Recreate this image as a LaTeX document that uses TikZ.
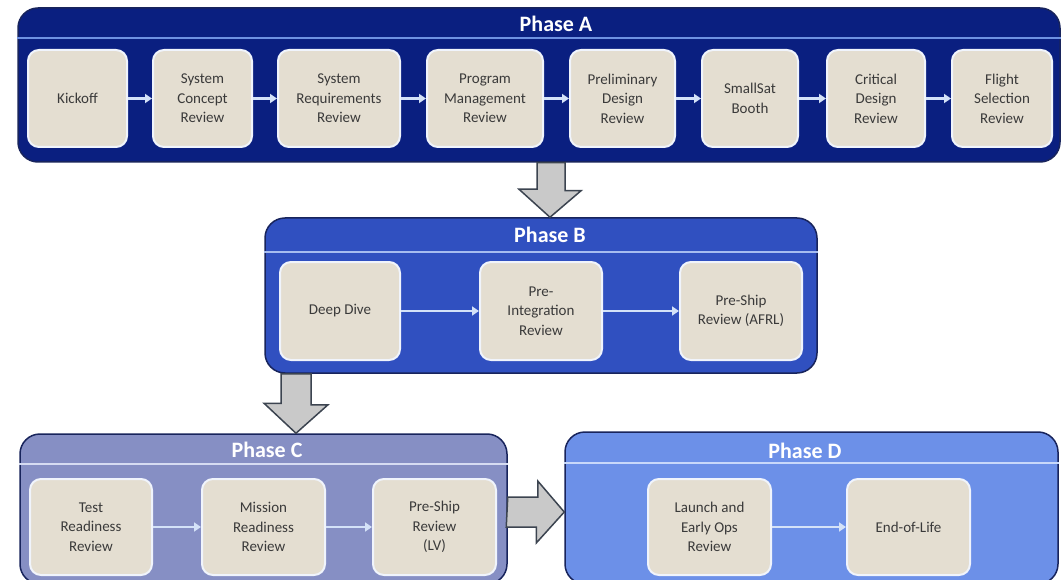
\documentclass[tikz,border=0pt]{standalone}
\usepackage{fontspec}
\setmainfont{Carlito}
\usetikzlibrary{arrows.meta,calc}

\definecolor{fillA}{RGB}{10,31,128}
\definecolor{fillB}{RGB}{48,80,192}
\definecolor{fillC}{RGB}{134,143,196}
\definecolor{fillD}{RGB}{108,144,232}
\definecolor{ruleA}{RGB}{110,145,225}
\definecolor{ruleB}{RGB}{166,188,240}
\definecolor{ruleC}{RGB}{214,220,242}
\definecolor{ruleD}{RGB}{200,216,250}
\definecolor{paneledge}{RGB}{24,36,92}
\definecolor{stagefill}{RGB}{228,222,209}
\definecolor{stageedge}{RGB}{240,244,252}
\definecolor{stagetext}{RGB}{58,58,58}
\definecolor{flowcol}{RGB}{212,226,248}
\definecolor{arrowfill}{RGB}{201,201,201}
\definecolor{arrowedge}{RGB}{60,68,80}

\begin{document}
\begin{tikzpicture}[x=1pt,y=-1pt,
  panel/.style={draw=paneledge, line width=1.5pt, rounded corners=20pt, inner sep=0pt},
  stage/.style={draw=stageedge, line width=2pt, fill=stagefill, rounded corners=11pt,
    inner sep=2pt, align=center, text=stagetext,
    font=\fontsize{15}{19.5}\selectfont},
  flow/.style={draw=flowcol, line width=2.2pt, -{Triangle[length=7pt,width=9pt]}},
  blockarrow/.style={draw=arrowedge, fill=arrowfill, line width=1.5pt, line join=miter},
  phasetitle/.style={text=white, inner sep=0pt, font=\bfseries\fontsize{22}{24}\selectfont}]

\useasboundingbox (0,0) rectangle (1063,580);
\fill[white] (0,0) rectangle (1063,580);
\clip (0,0) rectangle (1063,580);

% ---------- phase panels ----------
\node[panel, fill=fillA, minimum width=1042pt, minimum height=154pt] (pA) at (539,85) {};
\node[panel, fill=fillB, minimum width=552pt, minimum height=155pt] (pB) at (541,295.5) {};
\node[panel, fill=fillC, minimum width=487pt, minimum height=150pt] (pC) at (263.5,509) {};
\node[panel, fill=fillD, minimum width=493pt, minimum height=152pt] (pD) at (811.5,508) {};

% header rules
\draw[ruleA, line width=1.5pt] (pA.west |- 0,38) -- (pA.east |- 0,38);
\draw[ruleB, line width=1.5pt] (pB.west |- 0,252) -- (pB.east |- 0,252);
\draw[ruleC, line width=1.5pt] (pC.west |- 0,464) -- (pC.east |- 0,464);
\draw[ruleD, line width=1.5pt] (pD.west |- 0,463) -- (pD.east |- 0,463);

% titles
\node[phasetitle] (tA) at (556,23.5) {Phase A};
\node[phasetitle] (tB) at (550,235) {Phase B};
\node[phasetitle] (tC) at (267,450) {Phase C};
\node[phasetitle] (tD) at (805,451) {Phase D};

% ---------- Phase A stages ----------
\node[stage, minimum width=99pt,  minimum height=97pt] (a1) at (77.5,98.5)  {Kickoff};
\node[stage, minimum width=99pt,  minimum height=97pt] (a2) at (202.5,98.5) {System\\Concept\\Review};
\node[stage, minimum width=122pt, minimum height=97pt] (a3) at (339,98.5)   {System\\Requirements\\Review};
\node[stage, minimum width=116pt, minimum height=97pt] (a4) at (485,98.5)   {Program\\Management\\Review};
\node[stage, minimum width=105pt, minimum height=97pt] (a5) at (622.5,98.5) {Preliminary\\Design\\Review};
\node[stage, minimum width=96pt,  minimum height=97pt] (a6) at (750,98.5)   {SmallSat\\Booth};
\node[stage, minimum width=98pt,  minimum height=97pt] (a7) at (876,98.5)   {Critical\\Design\\Review};
\node[stage, minimum width=100pt, minimum height=97pt] (a8) at (1002,98.5)  {Flight\\Selection\\Review};

\foreach \s/\t in {a1/a2,a2/a3,a3/a4,a4/a5,a5/a6,a6/a7,a7/a8}
  \draw[flow] (\s.east) -- (\t.west);

% ---------- Phase B stages ----------
\node[stage, minimum width=120pt, minimum height=98pt] (b1) at (340,311) {Deep Dive};
\node[stage, minimum width=122pt, minimum height=98pt] (b2) at (541,311) {Pre-\\Integration\\Review};
\node[stage, minimum width=122pt, minimum height=98pt] (b3) at (741,311) {Pre-Ship\\Review (AFRL)};

\draw[flow] (b1.east) -- (b2.west);
\draw[flow] (b2.east) -- (b3.west);

% ---------- Phase C stages ----------
\node[stage, minimum width=122pt, minimum height=96pt] (c1) at (91,527)    {Test\\Readiness\\Review};
\node[stage, minimum width=123pt, minimum height=96pt] (c2) at (263.5,527) {Mission\\Readiness\\Review};
\node[stage, minimum width=123pt, minimum height=96pt] (c3) at (434.5,527) {Pre-Ship\\Review\\(LV)};

\draw[flow] (c1.east) -- (c2.west);
\draw[flow] (c2.east) -- (c3.west);

% ---------- Phase D stages ----------
\node[stage, minimum width=123pt, minimum height=96pt] (d1) at (709.5,527) {Launch and\\Early Ops\\Review};
\node[stage, minimum width=123pt, minimum height=96pt] (d2) at (908.5,527) {End-of-Life};

\draw[flow] (d1.east) -- (d2.west);

% ---------- block arrows between phases ----------
\draw[blockarrow] ($(pA.south)+(-2,0)$) -- ++(28,0) -- ++(0,28) -- ++(16,0)
  -- ($(pB.north)+(9,0)$) -- ++(-31,-28) -- ++(18,0) -- cycle;
\draw[blockarrow] ($(pB.south)+(-260,0)$) -- ++(30,0) -- ++(0,31) -- ++(17,0)
  -- ($(pC.north)+(32.5,0)$) -- ++(-32,-30) -- ++(17,0) -- cycle;
\draw[blockarrow] ($(pC.east)+(0,-12)$) -- ++(30,0) -- ++(0,-16)
  -- ($(pD.west)+(0,4)$) -- ++(-28,31) -- ++(0,-16) -- ++(-30,0) -- cycle;

\end{tikzpicture}
\end{document}
